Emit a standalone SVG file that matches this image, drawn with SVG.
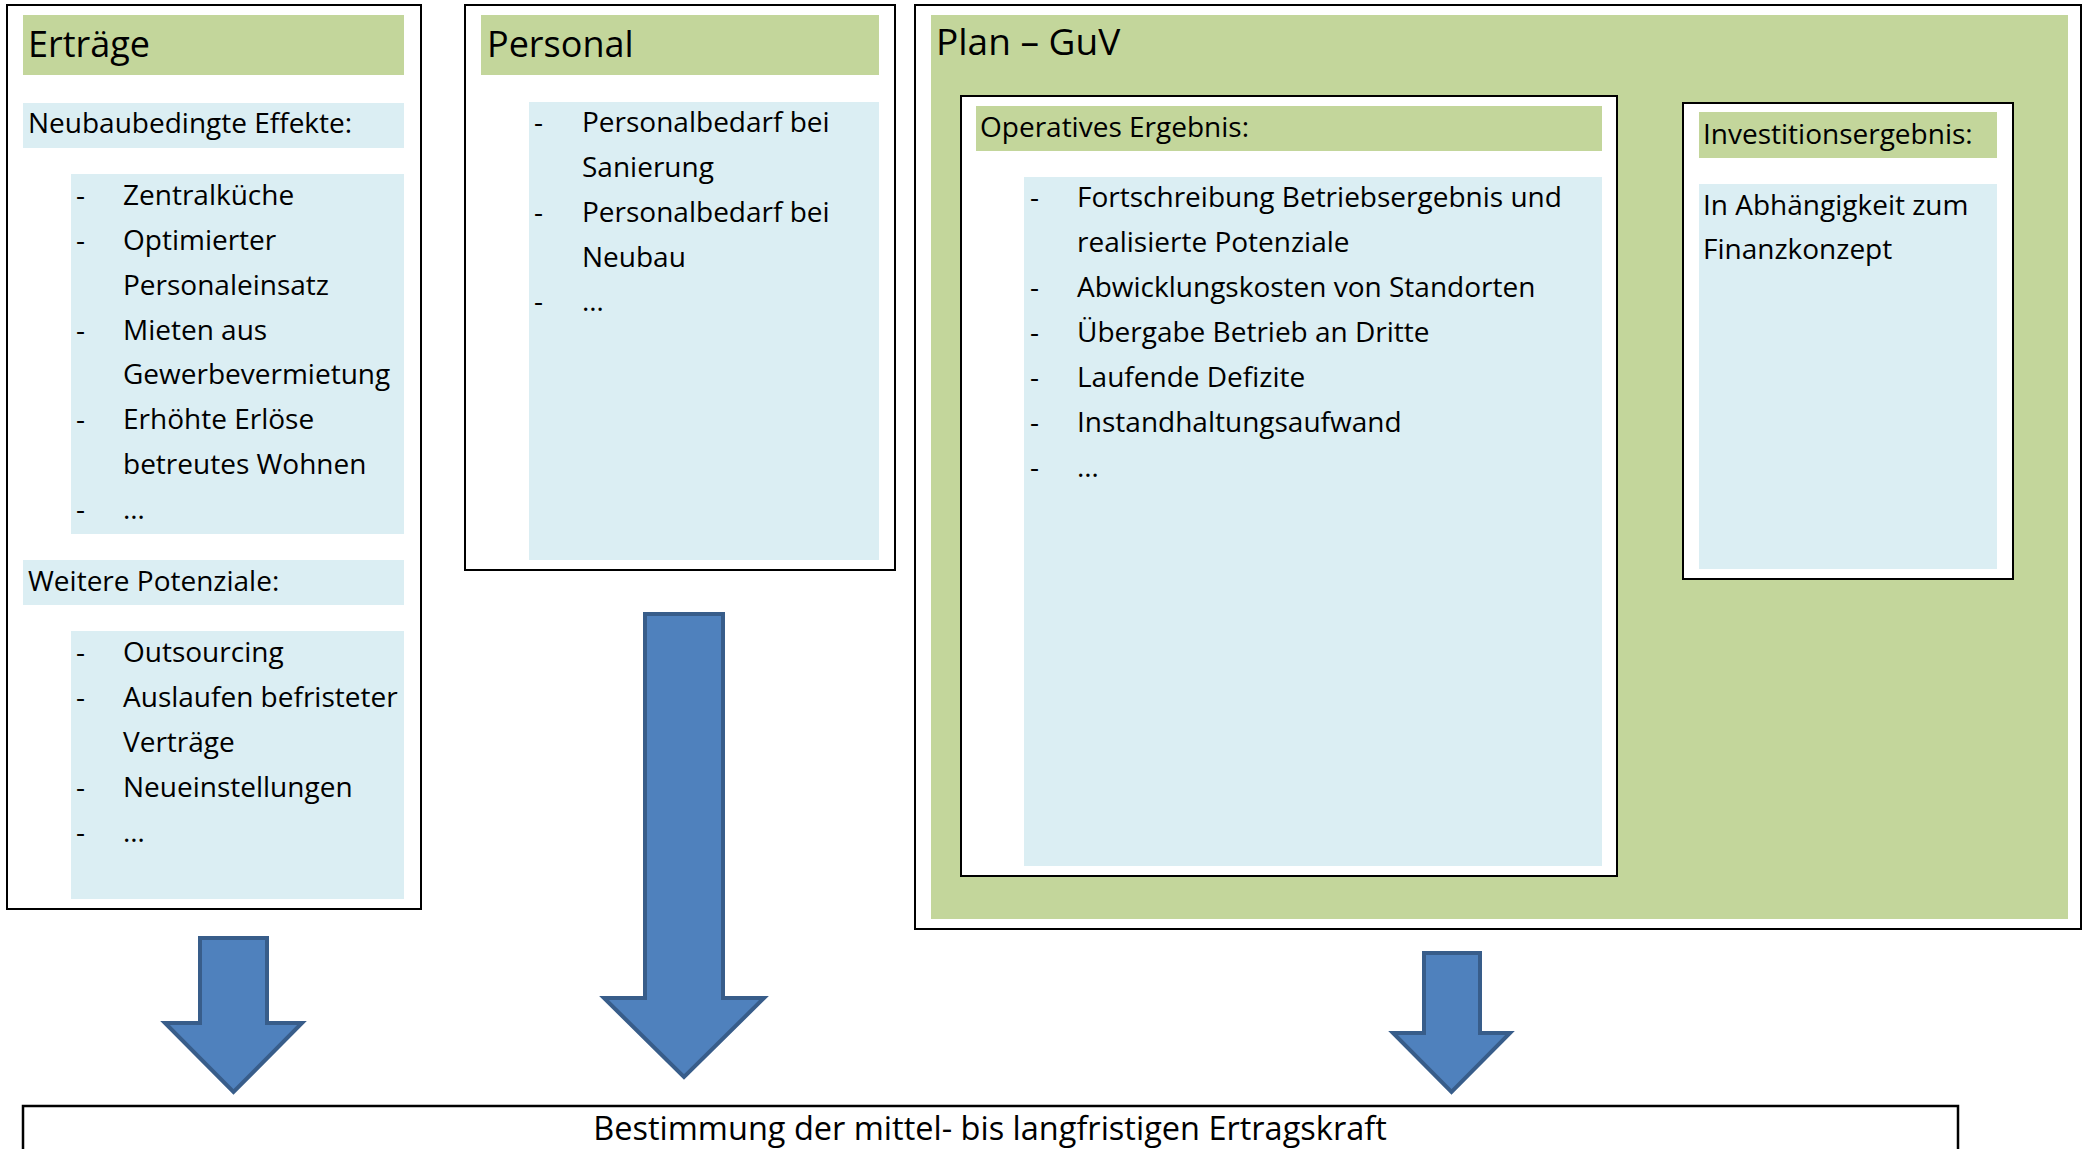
<svg xmlns="http://www.w3.org/2000/svg" width="2082" height="1149" viewBox="0 0 2082 1149">
<style>
text{font-family:"Open Sans","DejaVu Sans",sans-serif;fill:#000}
.t{font-size:36px}
.b{font-size:28px}
.frame{fill:#fff;stroke:#000;stroke-width:2}
.g{fill:#c3d69b}
.l{fill:#dbeef3}
.arr{fill:#4f81bd;stroke:#385d8a;stroke-width:4;stroke-linejoin:miter}
</style>
<rect width="2082" height="1149" fill="#fff"/>

<g id="ertraege">
<rect class="frame" x="7" y="5" width="414" height="904"/>
<rect class="g" x="23" y="15" width="381" height="60"/>
<text class="t" x="28" y="57">Erträge</text>
<rect class="l" x="23" y="103" width="381" height="45"/>
<text class="b" x="28" y="133">Neubaubedingte Effekte:</text>
<rect class="l" x="71" y="174" width="333" height="360"/>
<text class="b" x="76" y="205">-</text><text class="b" x="123" y="205">Zentralküche</text>
<text class="b" x="76" y="250">-</text><text class="b" x="123" y="250">Optimierter</text>
<text class="b" x="123" y="295">Personaleinsatz</text>
<text class="b" x="76" y="340">-</text><text class="b" x="123" y="340">Mieten aus</text>
<text class="b" x="123" y="384">Gewerbevermietung</text>
<text class="b" x="76" y="429">-</text><text class="b" x="123" y="429">Erhöhte Erlöse</text>
<text class="b" x="123" y="474">betreutes Wohnen</text>
<text class="b" x="76" y="519">-</text><text class="b" x="123" y="519">…</text>
<rect class="l" x="23" y="560" width="381" height="45"/>
<text class="b" x="28" y="591">Weitere Potenziale:</text>
<rect class="l" x="71" y="631" width="333" height="268"/>
<text class="b" x="76" y="662">-</text><text class="b" x="123" y="662">Outsourcing</text>
<text class="b" x="76" y="707">-</text><text class="b" x="123" y="707">Auslaufen befristeter</text>
<text class="b" x="123" y="752">Verträge</text>
<text class="b" x="76" y="797">-</text><text class="b" x="123" y="797">Neueinstellungen</text>
<text class="b" x="76" y="842">-</text><text class="b" x="123" y="842">…</text>
</g>

<g id="personal">
<rect class="frame" x="465" y="5" width="430" height="565"/>
<rect class="g" x="481" y="15" width="398" height="60"/>
<text class="t" x="487" y="57">Personal</text>
<rect class="l" x="529" y="102" width="350" height="458"/>
<text class="b" x="534" y="132">-</text><text class="b" x="582" y="132">Personalbedarf bei</text>
<text class="b" x="582" y="177">Sanierung</text>
<text class="b" x="534" y="222">-</text><text class="b" x="582" y="222">Personalbedarf bei</text>
<text class="b" x="582" y="267">Neubau</text>
<text class="b" x="534" y="311">-</text><text class="b" x="582" y="311">…</text>
</g>

<g id="plan-guv">
<rect class="frame" x="915" y="5" width="1166" height="924"/>
<rect class="g" x="931" y="15" width="1137" height="904"/>
<text class="t" x="936" y="55" style="font-size:37px">Plan – GuV</text>
<g id="operatives-ergebnis">
<rect class="frame" x="961" y="96" width="656" height="780"/>
<rect class="g" x="976" y="106" width="626" height="45"/>
<text class="b" x="980" y="137">Operatives Ergebnis:</text>
<rect class="l" x="1024" y="177" width="578" height="689"/>
<text class="b" x="1030" y="207">-</text><text class="b" x="1077" y="207">Fortschreibung Betriebsergebnis und</text>
<text class="b" x="1077" y="252">realisierte Potenziale</text>
<text class="b" x="1030" y="297">-</text><text class="b" x="1077" y="297">Abwicklungskosten von Standorten</text>
<text class="b" x="1030" y="342">-</text><text class="b" x="1077" y="342">Übergabe Betrieb an Dritte</text>
<text class="b" x="1030" y="387">-</text><text class="b" x="1077" y="387">Laufende Defizite</text>
<text class="b" x="1030" y="432">-</text><text class="b" x="1077" y="432">Instandhaltungsaufwand</text>
<text class="b" x="1030" y="477">-</text><text class="b" x="1077" y="477">…</text>
</g>
<g id="investitionsergebnis">
<rect class="frame" x="1683" y="103" width="330" height="476"/>
<rect class="g" x="1699" y="112" width="298" height="46"/>
<text class="b" x="1703" y="144">Investitionsergebnis:</text>
<rect class="l" x="1699" y="184" width="298" height="385"/>
<text class="b" x="1703" y="215">In Abhängigkeit zum</text>
<text class="b" x="1703" y="259">Finanzkonzept</text>
</g>
</g>

<g id="ertragskraft">
<rect x="23" y="1106" width="1935" height="60" fill="#fff" stroke="#000" stroke-width="2.5"/>
<text x="990" y="1140" text-anchor="middle" style="font-size:32.5px">Bestimmung der mittel- bis langfristigen Ertragskraft</text>
</g>

<g id="connectors">
<path class="arr" d="M200,938 H267 V1023 H302 L233.5,1092 L165,1023 H200 Z"/>
<path class="arr" d="M645,614 H723 V998 H764 L684,1077 L604,998 H645 Z"/>
<path class="arr" d="M1424,953 H1480 V1033 H1510 L1451.5,1092 L1393,1033 H1424 Z"/>
</g>
</svg>
